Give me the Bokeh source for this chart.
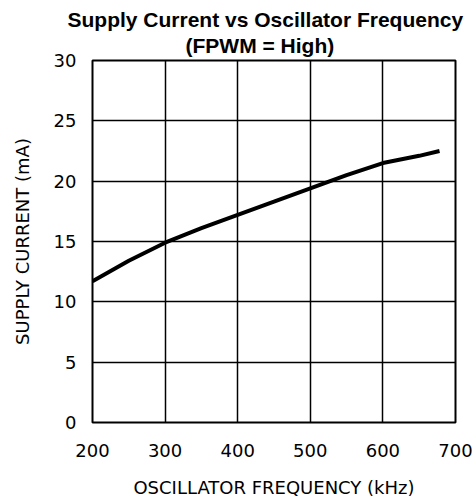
from bokeh.plotting import figure
from bokeh.models import Title, Range1d, FixedTicker
from bokeh.embed import file_html
from bokeh.resources import INLINE

freq_khz = [200, 250, 300, 350, 400, 450, 500, 550, 600, 650, 678]
supply_ma = [11.7, 13.4, 14.9, 16.1, 17.2, 18.3, 19.4, 20.5, 21.5, 22.1, 22.5]
x_ticks = [200, 300, 400, 500, 600, 700]
y_ticks = [0, 5, 10, 15, 20, 25, 30]
title_main = "Supply Current vs Oscillator Frequency"
title_sub = "(FPWM = High)"

FONT = "DejaVu Sans"

p = figure(frame_width=363, frame_height=362, output_backend="svg", toolbar_location=None,
           x_range=Range1d(200, 700), y_range=Range1d(0, 30),
           min_border_left=92, min_border_right=20, min_border_top=60, min_border_bottom=74,
           title=None)

p.add_layout(Title(text=title_sub, align="left", text_font="Liberation Sans",
                   text_font_size="21px", text_font_style="bold", text_color="black",
                   standoff=8, offset=93), "above")
p.add_layout(Title(text=title_main, align="left", text_font="Liberation Sans",
                   text_font_size="21px", text_font_style="bold", text_color="black",
                   standoff=-7, offset=-25), "above")

p.line(freq_khz, supply_ma, line_color="black", line_width=4)

for ax in (p.xaxis, p.yaxis):
    ax.axis_line_color = None
    ax.major_tick_line_color = None
    ax.minor_tick_line_color = None
    ax.major_label_text_font = FONT
    ax.major_label_text_font_size = "18px"
    ax.major_label_text_color = "black"
    ax.axis_label_text_font = FONT
    ax.axis_label_text_font_size = "18px"
    ax.axis_label_text_font_style = "normal"
    ax.axis_label_text_color = "black"

p.xaxis.ticker = FixedTicker(ticks=x_ticks)
p.yaxis.ticker = FixedTicker(ticks=y_ticks)
p.xaxis.axis_label = "OSCILLATOR FREQUENCY (kHz)"
p.yaxis.axis_label = "SUPPLY CURRENT (mA)"
p.xaxis.major_label_standoff = 15
p.yaxis.major_label_standoff = 10
p.xaxis.axis_label_standoff = 17
p.yaxis.axis_label_standoff = 18

p.xgrid.grid_line_color = "black"
p.ygrid.grid_line_color = "black"
p.xgrid.grid_line_width = 1.5
p.ygrid.grid_line_width = 1.5
p.outline_line_color = "black"
p.outline_line_width = 2
p.outline_line_alpha = 1

open("out.html", "w").write(file_html(p, INLINE))
